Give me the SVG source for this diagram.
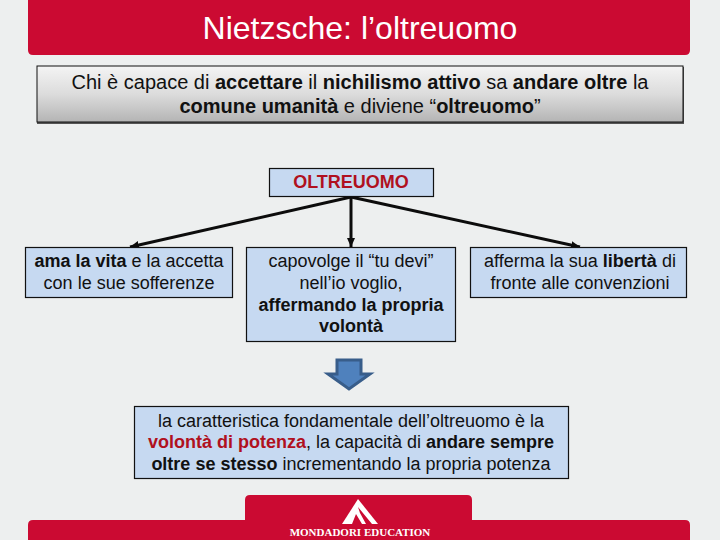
<svg xmlns="http://www.w3.org/2000/svg" width="720" height="540" viewBox="0 0 720 540">
<style>
text{font-family:"Liberation Sans",Arial,sans-serif;font-size:18px;fill:#111;text-anchor:middle}
.b{font-weight:bold}
.r{fill:#b01020}
.i{font-size:20px}
.box{fill:#c6d9f1;stroke:#111;stroke-width:1.2}
.band{fill:#cb0a32}
.conn{stroke:#0c0c0c;stroke-width:3;fill:none;marker-end:url(#ah)}
</style>
<defs>
<linearGradient id="g" x1="0" y1="0" x2="0" y2="1"><stop offset="0" stop-color="#f4f4f4"/><stop offset="0.5" stop-color="#dcdcdc"/><stop offset="1" stop-color="#b4b4b4"/></linearGradient>
<marker id="ah" markerUnits="userSpaceOnUse" markerWidth="10" markerHeight="8" refX="9" refY="4" orient="auto"><path d="M0 0L9 4L0 8z" fill="#0c0c0c"/></marker>
</defs>
<rect width="720" height="540" fill="#edefef"/>
<g id="title"><path class="band" d="M28 0H690V50Q690 55 685 55H33Q28 55 28 50z"/><text x="360" y="39" style="font-size:32px;fill:#fff">Nietzsche: l’oltreuomo</text></g>
<g id="footer"><path class="band" d="M28 540V525Q28 520 33 520H245V500Q245 495 250 495H467Q472 495 472 500V520H685Q690 520 690 525V540z"/><path d="M358 499L378 524H342z" fill="#fff"/><path d="M352 524L356 514L362 524zM366 524L360 513L358 507L372 524z" fill="#cb0a32"/><text x="360" y="536" style="font-family:'Liberation Serif',serif;font-size:11px;font-weight:bold;fill:#fff">MONDADORI EDUCATION</text></g>
<g id="intro"><rect x="37" y="67" width="647" height="57" fill="#555"/><rect x="37" y="66" width="646" height="56" fill="url(#g)" stroke="#111" stroke-width="1"/><text class="i" x="360" y="89">Chi è capace di <tspan class="b">accettare</tspan> il <tspan class="b">nichilismo attivo</tspan> sa <tspan class="b">andare oltre</tspan> la</text><text class="i" x="360" y="113"><tspan class="b">comune umanità</tspan> e diviene “<tspan class="b">oltreuomo</tspan>”</text></g>
<g id="connectors"><path class="conn" d="M351 197L130 247"/><path class="conn" d="M351 197V247"/><path class="conn" d="M351 197L580 247"/></g>
<g id="n-oltreuomo"><rect class="box" x="269.500" y="168.500" width="164" height="28"/><text class="b r" x="351" y="188">OLTREUOMO</text></g>
<g id="n-vita"><rect class="box" x="25.500" y="247.500" width="207" height="50"/><text x="129" y="267"><tspan class="b">ama la vita</tspan> e la accetta</text><text x="129" y="289">con le sue sofferenze</text></g>
<g id="n-tu"><rect class="box" x="246.500" y="247.500" width="209" height="94"/><text x="351" y="267">capovolge il “tu devi”</text><text x="351" y="289">nell’io voglio,</text><text class="b" x="351" y="311">affermando la propria</text><text class="b" x="351" y="332">volontà</text></g>
<g id="n-liberta"><rect class="box" x="470.500" y="247.500" width="216" height="50"/><text x="580" y="267">afferma la sua <tspan class="b">libertà</tspan> di</text><text x="580" y="289">fronte alle convenzioni</text></g>
<path id="arrow" d="M337 360H361V374H370L349 389L328 374H337z" fill="#4f81bd" stroke="#385d8a" stroke-width="3"/>
<g id="n-caratteristica"><rect class="box" x="134.500" y="406.500" width="434" height="72"/><text x="351" y="427">la caratteristica fondamentale dell’oltreuomo è la</text><text x="351" y="448"><tspan class="b r">volontà di potenza</tspan>, la capacità di <tspan class="b">andare sempre</tspan></text><text x="351" y="470"><tspan class="b">oltre se stesso</tspan> incrementando la propria potenza</text></g>
</svg>
